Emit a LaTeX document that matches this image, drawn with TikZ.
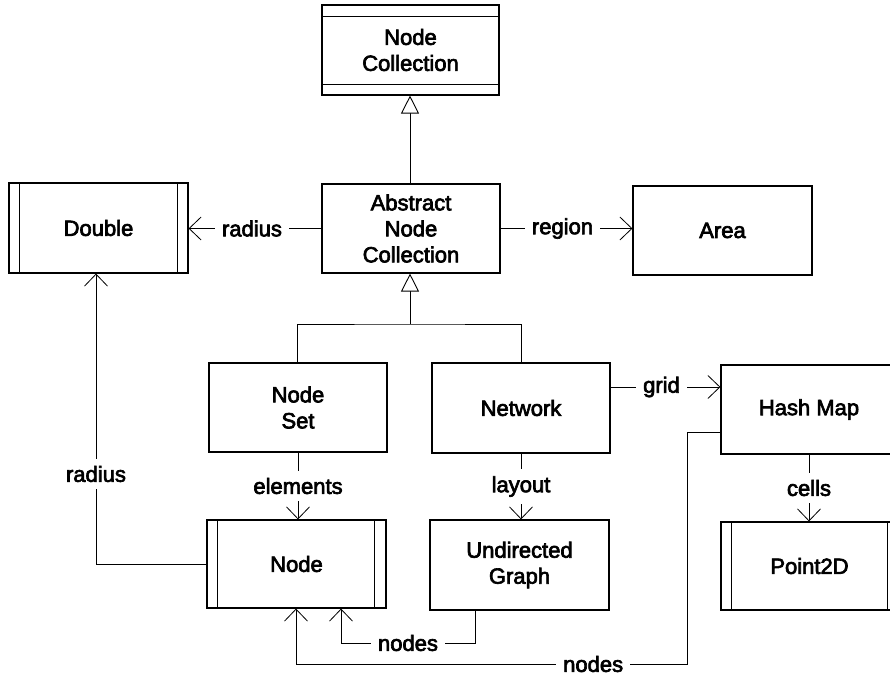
\documentclass[tikz,border=0pt]{standalone}
\usepackage{fontspec}
\setmainfont{Liberation Sans}[BoldFont=Liberation Sans, BoldFeatures={FakeBold=3}]
\usetikzlibrary{arrows.meta,calc}
\begin{document}
\begin{tikzpicture}[x=1pt,y=-1pt,
  font=\fontsize{22}{26}\selectfont\bfseries,
  cls/.style={draw, line width=1.1pt, fill=white, align=center, inner sep=0pt,
    minimum width=#1, minimum height=89pt},
  cls/.default=178pt,
  conn/.style={line width=0.9pt},
  assoc/.style={conn, -{Straight Barb[length=12pt,width=23pt,line width=0.8pt]}},
  inherit/.style={conn, -{Triangle[open,length=18pt,width=18pt,line width=0.9pt,fill=white]}},
  lbl/.style={fill=white, inner sep=7pt}
]
\useasboundingbox (0,0) rectangle (890,676);
\clip (0,0) rectangle (890,676);
\fill[white] (0,0) rectangle (890,676);

% classes
\node[cls=177pt, minimum height=90pt] (NC) at (410.5,50) {Node\\Collection};
\node[cls] (ANC) at (411,228.5) {Abstract\\Node\\Collection};
\node[cls=179pt, minimum height=90pt] (Double) at (98.5,228) {Double};
\node[cls=179pt] (Area) at (722.5,230.5) {Area};
\node[cls] (NodeSet) at (298,407.5) {Node\\Set};
\node[cls, minimum height=90pt] (Network) at (521,408) {Network};
\node[cls=176pt] (HashMap) at (809,409.5) {Hash Map};
\node[cls=179pt, minimum height=88pt] (Node) at (296.5,564) {Node};
\node[cls=179pt, minimum height=90pt] (UG) at (519.5,565) {Undirected\\Graph};
\node[cls=177pt, minimum height=88pt] (Point2D) at (809.5,566) {Point2D};

% compartment / side lines
\draw[line width=0.9pt] (NC.north west |- 0,16) -- (NC.north east |- 0,16);
\draw[line width=0.9pt] (NC.north west |- 0,84) -- (NC.north east |- 0,84);
\draw[line width=0.9pt] ([xshift=10.5pt]Double.north west) -- ([xshift=10.5pt]Double.south west);
\draw[line width=0.9pt] ([xshift=-11pt]Double.north east) -- ([xshift=-11pt]Double.south east);
\draw[line width=0.9pt] ([xshift=11pt]Node.north west) -- ([xshift=11pt]Node.south west);
\draw[line width=0.9pt] ([xshift=-12pt]Node.north east) -- ([xshift=-12pt]Node.south east);
\draw[line width=0.9pt] ([xshift=11pt]Point2D.north west) -- ([xshift=11pt]Point2D.south west);
\draw[line width=0.9pt] ([xshift=-11pt]Point2D.north east) -- ([xshift=-11pt]Point2D.south east);

% inheritance
\draw[inherit] ([xshift=-1pt]ANC.north) -- ([xshift=-1pt]ANC.north |- NC.south);
\coordinate (J) at (410,324);
\draw[inherit] (J) -- (J |- ANC.south);
\draw[conn] ([xshift=-1pt]NodeSet.north) |- (J) -| (Network.north);

% associations
\draw[assoc] (ANC.west) -- node[lbl, xshift=-3pt]{radius} (ANC.west -| Double.east);
\draw[assoc] (ANC.east) -- node[lbl, xshift=-4pt]{region} (ANC.east -| Area.west);
\draw[assoc] ([yshift=21pt]Network.east) -- node[lbl, xshift=-4pt]{grid} ([yshift=21pt]Network.east -| HashMap.west);
\draw[assoc] (NodeSet.south) -- node[lbl]{elements} (NodeSet.south |- Node.north);
\draw[assoc] (Network.south) -- node[lbl]{layout} (Network.south |- UG.north);
\draw[assoc] (HashMap.south) -- node[lbl]{cells} (HashMap.south |- Point2D.north);

\coordinate (R1) at (96,564);
\draw[assoc] (Node.west) -- (R1) -- node[lbl, pos=0.31]{radius} (R1 |- Double.south);

\coordinate (N1) at (475,643);
\coordinate (N2) at (341,643);
\draw[assoc] (N1 |- UG.south) -- (N1) -- node[lbl]{nodes} (N2) -- (N2 |- Node.south);

\coordinate (M1) at (687,432);
\coordinate (M2) at (687,664);
\coordinate (M3) at (296,664);
\draw[assoc] (M1 -| HashMap.west) -- (M1) -- (M2) -- node[lbl, pos=0.24]{nodes} (M3) -- (M3 |- Node.south);
\end{tikzpicture}
\end{document}
